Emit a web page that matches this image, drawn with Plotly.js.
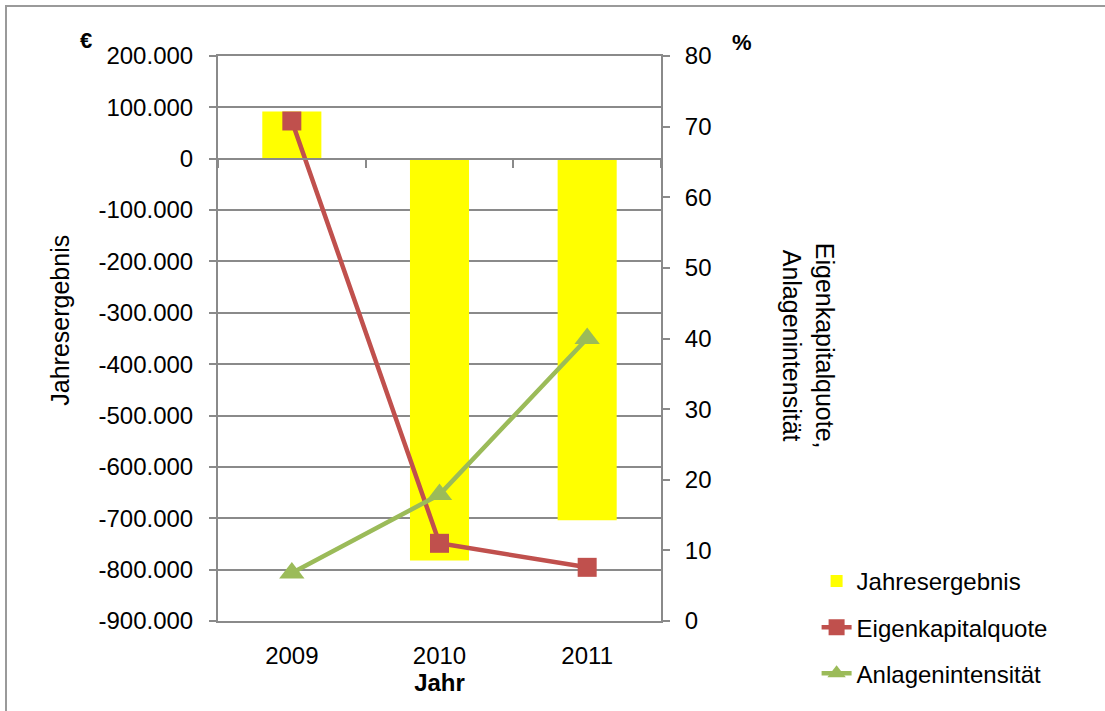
<!DOCTYPE html>
<html>
<head>
<meta charset="utf-8">
<script src="https://cdn.plot.ly/plotly-3.0.1.min.js"></script>
<style>
  html, body { margin: 0; padding: 0; background: #fff; }
  #wrap { position: relative; width: 1105px; height: 711px; overflow: hidden; }
  #frame { position: absolute; left: 5px; top: 5px; width: 1120px; height: 730px;
           border: 2px solid #9a9a9a; box-sizing: border-box; pointer-events: none; }
  #chart { position: absolute; left: 0; top: 0; width: 1105px; height: 711px; }
</style>
</head>
<body>
<div id="wrap">
  <div id="chart"></div>
  <div id="frame"></div>
</div>
<script>
// Jahre
const years = ['2009', '2010', '2011'];

// Jahresergebnis in €
const jahresergebnis = [92000, -782000, -704000];

// Kennzahlen in %
const eigenkapitalquote = [70.8, 11.0, 7.6];
const anlagenintensitaet = [6.8, 17.9, 40.0];

// Achsenbeschriftung links (€)
const euroTickVals = [200000, 100000, 0, -100000, -200000, -300000, -400000, -500000, -600000, -700000, -800000, -900000];
const euroTickText = ['200.000', '100.000', '0', '-100.000', '-200.000', '-300.000', '-400.000', '-500.000', '-600.000', '-700.000', '-800.000', '-900.000'];

// Achsenbeschriftung rechts (%)
const pctTickVals = [0, 10, 20, 30, 40, 50, 60, 70, 80];
const pctTickText = ['0', '10', '20', '30', '40', '50', '60', '70', '80'];

const euroRange = [-900000, 200000];
const pctRange = [0, 80];
const catRange = [-0.5, 2.5];

const FONT = '"Liberation Sans", Arial, sans-serif';
const GRID = '#8a8a8a';

const traces = [
  {
    type: 'bar', name: 'Jahresergebnis', x: years, y: jahresergebnis,
    xaxis: 'x', yaxis: 'y', width: 0.4,
    marker: { color: '#FFFF00' },
    legendgroup: 'a', hoverinfo: 'x+y'
  },
  {
    type: 'scatter', mode: 'lines+markers', name: 'Eigenkapitalquote',
    x: years, y: eigenkapitalquote, xaxis: 'x', yaxis: 'y2',
    line: { color: '#C0504D', width: 4.5 },
    marker: { symbol: 'square', size: 19, color: '#C0504D' },
    legendgroup: 'b'
  },
  {
    type: 'scatter', mode: 'lines+markers', name: 'Anlagenintensität',
    x: years, y: anlagenintensitaet, xaxis: 'x2', yaxis: 'y2',
    line: { color: '#9BBB59', width: 4.5 },
    marker: { symbol: 'triangle-up', size: 22, color: '#9BBB59' },
    legendgroup: 'c'
  }
];

const layout = {
  width: 1105, height: 711,
  margin: { l: 218, r: 444, t: 56, b: 90 },
  paper_bgcolor: 'rgba(0,0,0,0)', plot_bgcolor: '#fff',
  font: { family: FONT, size: 24, color: '#000' },
  showlegend: true,
  legend: {
    xref: 'container', yref: 'container',
    x: 0.739, y: 0.214, xanchor: 'left', yanchor: 'top',
    traceorder: 'grouped', tracegroupgap: 12, itemwidth: 30,
    font: { family: FONT, size: 24, color: '#000' },
    bgcolor: 'rgba(0,0,0,0)'
  },
  xaxis: {
    type: 'category', categoryorder: 'array', categoryarray: years, range: catRange,
    anchor: 'y', showline: true, mirror: true, linecolor: GRID, linewidth: 2,
    showgrid: false, zeroline: false,
    ticks: 'outside', ticklen: 12, tickcolor: 'rgba(0,0,0,0)',
    tickfont: { family: FONT, size: 24, color: '#000' },
    title: { text: '<b>Jahr</b>', font: { family: FONT, size: 24, color: '#000' }, standoff: 0 }
  },
  xaxis2: {
    type: 'category', categoryorder: 'array', categoryarray: years, range: catRange,
    overlaying: 'x', anchor: 'free',
    position: -euroRange[0] / (euroRange[1] - euroRange[0]),
    showline: true, linecolor: GRID, linewidth: 2,
    ticks: 'outside', tickson: 'boundaries', ticklen: 8, tickcolor: GRID, tickwidth: 2,
    showticklabels: false, showgrid: false, zeroline: false
  },
  yaxis: {
    range: euroRange, tickmode: 'array', tickvals: euroTickVals, ticktext: euroTickText,
    showline: true, linecolor: GRID, linewidth: 2,
    showgrid: true, gridcolor: GRID, gridwidth: 2, zeroline: false,
    ticks: 'outside', ticklen: 7, tickcolor: GRID, tickwidth: 2,
    ticklabelstandoff: 11,
    tickfont: { family: FONT, size: 24, color: '#000' }
  },
  yaxis2: {
    range: pctRange, tickmode: 'array', tickvals: pctTickVals, ticktext: pctTickText,
    overlaying: 'y', anchor: 'x', side: 'right',
    showline: true, linecolor: GRID, linewidth: 2,
    showgrid: false, zeroline: false,
    ticks: 'outside', ticklen: 7, tickcolor: GRID, tickwidth: 2,
    ticklabelstandoff: 10,
    tickfont: { family: FONT, size: 24, color: '#000' }
  },
  annotations: [
    { xref: 'paper', yref: 'paper', x: -0.357, y: 0.533, textangle: -90,
      xanchor: 'center', yanchor: 'middle', text: 'Jahresergebnis', showarrow: false,
      font: { family: FONT, size: 25, color: '#000' } },
    { xref: 'paper', yref: 'paper', x: -0.298, y: 1.028, xanchor: 'center', yanchor: 'middle',
      text: '<b>€</b>', showarrow: false,
      font: { family: FONT, size: 22, color: '#000' } },
    { xref: 'paper', yref: 'paper', x: 1.183, y: 1.024, xanchor: 'center', yanchor: 'middle',
      text: '<b>%</b>', showarrow: false,
      font: { family: FONT, size: 22, color: '#000' } },
    { xref: 'paper', yref: 'paper', x: 1.332, y: 0.487, textangle: 90,
      xanchor: 'center', yanchor: 'middle',
      text: 'Eigenkapitalquote,<br>Anlagenintensität', showarrow: false, align: 'center',
      font: { family: FONT, size: 25, color: '#000' } }
  ]
};

Plotly.newPlot('chart', traces, layout, { displayModeBar: false, staticPlot: true });
</script>
</body>
</html>
